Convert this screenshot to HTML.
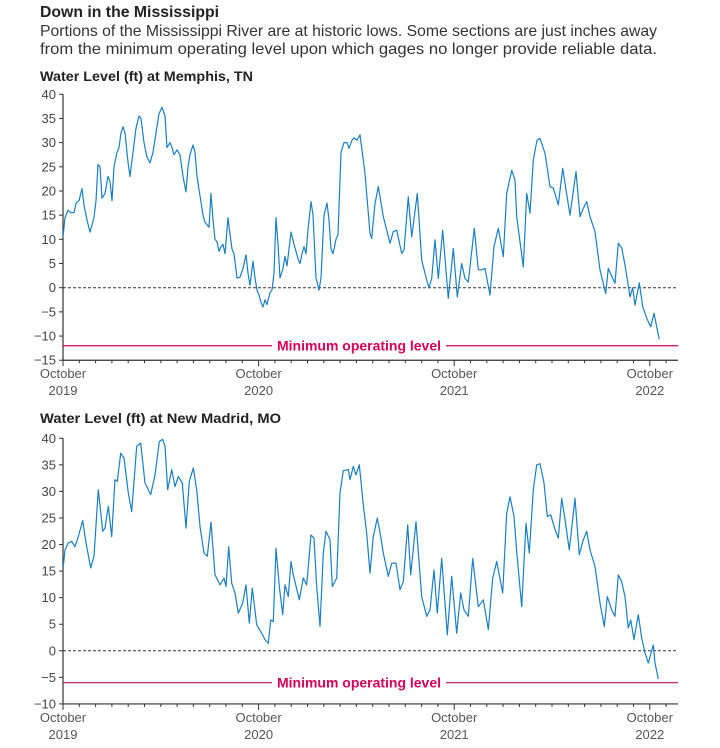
<!DOCTYPE html>
<html><head><meta charset="utf-8"><style>
html,body{margin:0;padding:0;background:#fff;}
body{width:720px;height:743px;overflow:hidden;font-family:"Liberation Sans",sans-serif;}
svg text{font-family:"Liberation Sans",sans-serif;}
</style></head><body>
<svg id="s" width="720" height="743" xmlns="http://www.w3.org/2000/svg">
<text x="40" y="17" font-size="15.8" font-weight="bold" fill="#222">Down in the Mississippi</text>
<text x="40" y="36" font-size="15.6" fill="#333" textLength="617" lengthAdjust="spacingAndGlyphs">Portions of the Mississippi River are at historic lows. Some sections are just inches away</text>
<text x="40" y="54" font-size="15.6" fill="#333" textLength="617" lengthAdjust="spacingAndGlyphs">from the minimum operating level upon which gages no longer provide reliable data.</text>
<text x="40" y="81" font-size="13.6" font-weight="bold" fill="#222" textLength="213" lengthAdjust="spacingAndGlyphs">Water Level (ft) at Memphis, TN</text>
<text x="40" y="423" font-size="13.6" font-weight="bold" fill="#222" textLength="241" lengthAdjust="spacingAndGlyphs">Water Level (ft) at New Madrid, MO</text>
</svg>
<script>
var NS="http://www.w3.org/2000/svg",S=document.getElementById('s');
function el(t,a,txt){var e=document.createElementNS(NS,t);for(var k in a)e.setAttribute(k,a[k]);if(txt!=null)e.textContent=txt;S.appendChild(e);return e;}
function chart(o){
 var Y=function(v){return o.zero-v*o.k;};
 for(var v=o.vmin;v<=o.vmax;v+=5){var y=Y(v);
  el('line',{x1:59,x2:63,y1:y,y2:y,stroke:'#333','stroke-width':1});
  el('text',{x:56,y:y+4.5,'font-size':13,'text-anchor':'end',fill:'#444'},(v<0?'\u2212':'')+Math.abs(v));}
 var yb=Y(o.vmin);
 el('line',{x1:63,x2:63,y1:Y(o.vmax),y2:yb,stroke:'#333','stroke-width':1.2});
 el('line',{x1:63,x2:678,y1:yb,y2:yb,stroke:'#333','stroke-width':1.2});
 for(var i=0;i<=37;i++){var x=63+i*16.3;if(x>678)break;var maj=i%12==0;
  el('line',{x1:x,x2:x,y1:yb,y2:yb+(maj?6:3),stroke:'#333','stroke-width':1});}
 var yrs=['2019','2020','2021','2022'];
 for(var j=0;j<4;j++){var x=63+j*195.6;
  el('text',{x:x,y:yb+18,'font-size':13,'text-anchor':'middle',fill:'#555'},'October');
  el('text',{x:x,y:yb+35,'font-size':13,'text-anchor':'middle',fill:'#555'},yrs[j]);}
 el('line',{x1:63,x2:678,y1:Y(0),y2:Y(0),stroke:'#333','stroke-width':1,'stroke-dasharray':'3,2'});
 var ym=Y(o.min);
 el('line',{x1:63,x2:272,y1:ym,y2:ym,stroke:o.mc,'stroke-width':1.2});
 el('line',{x1:446,x2:678,y1:ym,y2:ym,stroke:o.mc,'stroke-width':1.2});
 el('text',{x:277,y:ym+5,'font-size':14,'font-weight':'bold',fill:'#d4005a',textLength:164,lengthAdjust:'spacingAndGlyphs'},'Minimum operating level');
 var p=o.d,pts=[];
 for(var i=0;i<p.length;i+=2)pts.push(p[i].toFixed(1)+','+Y(p[i+1]).toFixed(1));
 el('polyline',{points:pts.join(' '),fill:'none',stroke:'#1a7fc1','stroke-width':1.2,'stroke-linejoin':'round'});
}
chart({zero:287.7,k:4.836,vmin:-15,vmax:40,min:-12,mc:'#d4005a',d:[
63,10.5,65,14.5,68,16,71,15.5,74,15.5,76,17.5,79,18,82,20.5,84,17,87,14,90,11.5,94,14.5,96,18,98,25.5,100,25,102,18.5,105,19.5,108,23,110,22,112,18,114,25,117,28,119,29,121,32,123,33.3,125,32,128,26,130,23,133,28,136,33,139,35.5,141,35,144,30,147,27,150,25.8,153,28,156,32,159,36,162,37.3,165,35.5,167,29,170,30,172,29,174,27.5,177,28.5,180,27.5,183,23,186,19.8,188,25,190,27.5,193,29.5,195,28,197,23,200,19,203,15,205,13.5,207,13,209,12.5,211,19.5,213,14,215,10,217,9.5,219,7.5,221,8.5,223,9,225,7,228,14.5,230,11,232,8,234,7,237,2,240,2.2,243,4,246,6.8,248,3,250,0.5,253,5.5,255,2,257,-0.5,259,-1.5,261,-3,263,-4,265,-2.5,267,-3.5,270,-1,272,-0.5,274,3,276,14.5,278,9,280,2,283,4,285,6.5,287,4.5,289,8,291,11.5,294,9,296,7.5,298,6,300,5,302,7,304,8.5,306,7,308,12,311,17.8,313,15,316,2,319,-0.5,321,2,324,15,327,17.5,329,14,331,8,333,7,336,10,338,11,341,28,344,30,347,30,349,28.8,352,30.5,354,31,357,30.5,360,31.6,
365,23.6,370,11.2,371.7,10.2,375,17.4,378.3,20.9,383.3,14.7,390,9.2,393.3,11.6,396.7,11.9,401.7,7.1,404,7.8,408.3,18.8,411.7,10.5,417.3,19.5,421.7,5.7,426.7,1.6,429,0,431.7,1.9,435,9.9,438.3,1.9,442.7,11.9,448.3,-2.2,453.3,8.1,457.3,-1.9,461.7,5,465,1.9,468.3,1.2,474.3,12.3,478.3,3.7,481.7,3.7,485,4,490,-1.5,494,8.5,498.3,12.3,503.3,6.4,506.7,19.5,511.7,24.3,515,22.3,516.7,14.7,523.3,4.3,526.7,19.5,530,15.4,533.3,26.4,537,30.5,540,30.9,545,27.8,550,20.9,553.3,20.6,558.3,17.1,562.7,24.7,565,21.6,570,15,576,24,580,14.7,583.3,16.4,586.7,17.8,590,14.7,595,11.6,600,3.7,605.7,-1.2,608.3,4,615,0.9,618.3,9.2,621.7,8.2,625,4.7,630,-1.9,632.7,0,635,-3.6,639.3,1,642.7,-3.9,646.7,-6.3,650.7,-8.1,654,-5.3,657.3,-8.7,659.3,-10.7]});
chart({zero:650.8,k:5.313,vmin:-10,vmax:40,min:-6,mc:'#b0104a',d:[
63.3,15.9,65,19,68.3,20.3,71.7,20.6,75,19.6,78.3,21.5,82.7,24.5,86,20.3,90.7,15.6,94,17.8,98.3,30.3,102.7,22.5,105,23.1,108.3,27.2,111.7,21.5,115,32.2,117.3,31.9,120.7,37.2,124,36.3,128.3,29.7,131.7,26.2,136.7,38.5,140.7,39.1,145,31.6,150.7,29.4,155,33.1,159.3,39.4,162.7,39.8,165,38.5,167.7,30.3,171.7,34.1,175,30.9,178.3,32.8,182.3,31.6,186,23.1,189.3,31.9,193.3,34.4,196.7,30.3,200,23.4,204,18.4,207.3,17.8,211,24.2,215,14.3,220,12.4,224,13.7,226,12.1,228.7,19.6,231.7,12.7,235,10.9,238.3,7.1,242.7,9,246,12.4,249.3,5.2,252.3,11.8,256.7,4.9,261.7,3.3,265,2.1,268.3,1.4,270.7,5.8,273.3,5.5,276,19.3,279.3,12.1,282.7,6.8,285,12.4,288.3,10.2,291,16.8,293.3,14.3,299.3,9.6,303.3,13.7,306.7,12.4,311,21.8,314,21.2,316.7,12.1,320,4.6,323.3,18.4,326,22.5,330,20.9,332.3,12.1,336.7,13.7,340,29.7,343.3,33.9,348.3,34.1,350,32.2,353.3,34.7,356,33.1,359.3,35,
363.3,27.5,366.7,22.1,370,14.6,373.3,21.5,377.3,25,380.7,21.5,383.3,18.4,388.3,14,391.7,16.5,396,16.5,400,11.5,403.3,13,407.7,23.7,410.7,14.3,416,24.3,421.7,10.2,426.7,6.5,430,7.7,434,15.2,437.3,7.1,441.7,17.4,447.3,3,451.7,14,456.7,3.3,460.7,10.9,464,7.7,468.3,6.5,472.7,17.4,478.3,8.3,483.3,9.6,488.3,4,492.7,13.7,496.7,16.8,502.7,10.9,506.7,25.9,510,29,514,25.3,516.7,18.7,521.7,8.3,526,24,529.3,18.4,533.3,30.3,536.7,35,540,35.2,544,31.6,547.3,25.3,550.7,25.6,555,22.8,558.3,21.2,561.7,28.7,565,24.7,569.3,19,575,28.7,579.3,18.1,583.3,20.9,586.7,22.5,590,19,595,15.9,600,9,604.3,4.6,607.3,10.2,611.7,7.7,615,6.5,618.3,14.3,621.7,13,625,10.2,628.3,4.3,630.7,5.8,634,2.1,638.3,6.8,641.7,2.4,645,-0.4,648.3,-2.3,653.3,1.1,655,-2.3,658.3,-5.3]});
</script>
</body></html>
